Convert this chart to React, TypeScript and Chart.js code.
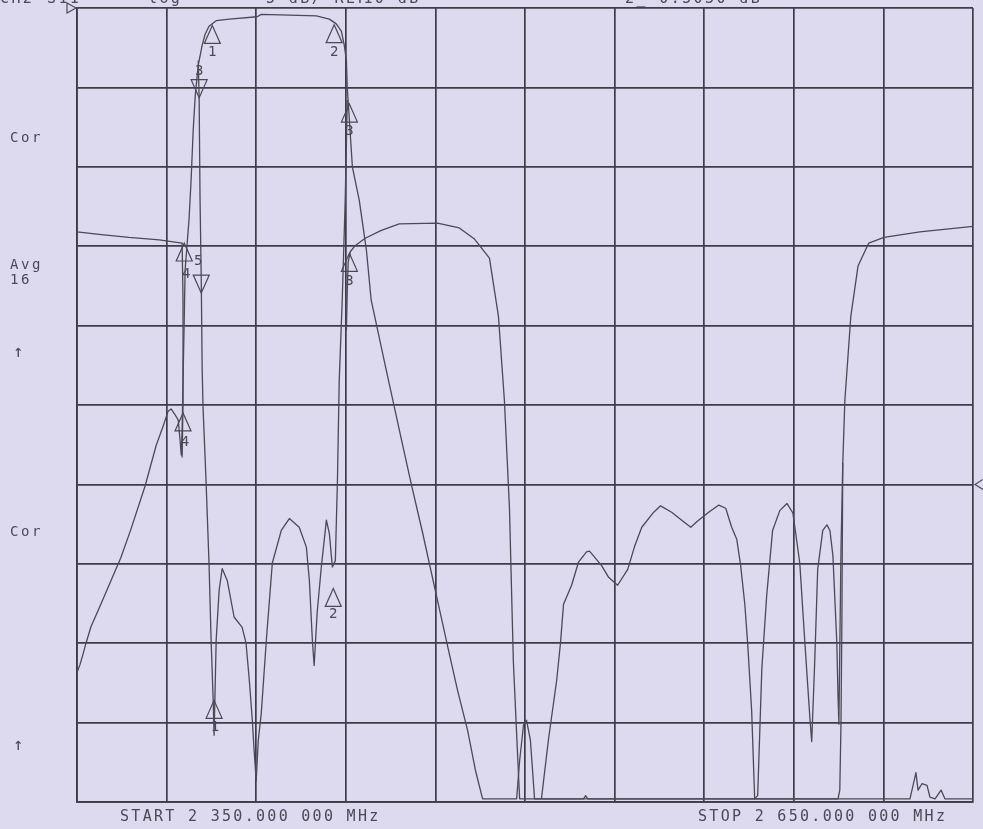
import { useEffect, useRef } from "react";
import { Chart, registerables } from "chart.js";

Chart.register(...registerables);

// ---------- axes ----------
const freqStartMHz = 2350;
const freqStopMHz = 2650;
const freqTicksMHz = [2350, 2380, 2410, 2440, 2470, 2500, 2530, 2560, 2590, 2620, 2650];
const levelTopDb = 0;
const levelBottomDb = -100;
const levelTicksDb = [0, -10, -20, -30, -40, -50, -60, -70, -80, -90, -100];

// ---------- trace 1 : passband transmission ----------
const passFreq = [
  2350.0, 2351.0, 2352.0, 2353.0, 2354.7, 2357.4, 2361.4, 2364.7, 2368.1, 2372.8,
  2376.5, 2378.8, 2380.5, 2381.5, 2382.8, 2383.9, 2384.5, 2384.9, 2385.2, 2385.5,
  2385.9, 2386.2, 2386.9, 2387.5, 2388.2, 2388.9, 2389.6, 2390.6, 2391.9, 2392.9,
  2394.2, 2396.6, 2401.0, 2410.3, 2411.7, 2421.1, 2430.1, 2434.5, 2436.8, 2438.5,
  2439.5, 2440.2, 2440.5, 2441.2, 2442.2, 2444.5, 2446.9, 2448.5, 2453.2, 2458.3,
  2462.0, 2465.6, 2470.7, 2474.4, 2477.4, 2480.8, 2483.4, 2485.8, 2497.2, 2498.2,
  2499.5, 2500.5, 2501.8, 2503.2, 2519.6, 2520.3, 2521.0, 2628.9, 2630.9, 2631.6,
  2632.9, 2634.6, 2635.6, 2637.3, 2639.3, 2640.6, 2650.0,
];
const passDb = [
  -83.7, -82.7, -81.4, -80.0, -77.9, -75.6, -72.1, -69.2, -65.6, -60.2,
  -55.1, -52.7, -50.8, -50.5, -51.2, -51.9, -54.4, -56.3, -53.2, -46.9,
  -39.3, -33.0, -29.6, -26.7, -21.7, -15.4, -11.0, -7.2, -4.7, -3.3,
  -2.3, -1.6, -1.4, -1.1, -0.8, -0.9, -1.0, -1.4, -2.0, -2.9,
  -4.7, -6.6, -10.1, -14.1, -20.0, -24.2, -30.5, -36.8, -45.0, -53.8,
  -60.1, -65.9, -74.6, -80.9, -85.9, -91.0, -96.0, -99.6, -99.6, -94.8,
  -90.3, -89.7, -92.2, -99.6, -99.6, -99.2, -99.6, -99.6, -96.3, -98.5,
  -97.7, -97.9, -99.4, -99.6, -98.5, -99.6, -99.6,
];

// ---------- trace 2 : complementary (notch) path ----------
const notchLowFreq = [2350.0, 2357.4, 2367.4, 2377.5, 2385.2, 2385.5, 2385.5, 2385.2];
const notchLowDb = [-28.2, -28.5, -28.9, -29.2, -29.6, -36.8, -49.4, -56.6];
const notchHighFreq = [
  2440.2, 2440.5, 2440.8, 2441.5, 2443.2, 2446.5, 2451.9, 2457.9, 2470.7, 2478.0,
  2483.1, 2488.1, 2491.1, 2493.1, 2494.8, 2496.1, 2497.5, 2498.2, 2604.8, 2605.4,
  2605.8, 2606.1, 2606.4, 2607.1, 2609.1, 2611.5, 2615.1, 2620.2, 2632.2, 2650.0,
];
const notchHighDb = [
  -40.6, -35.5, -32.0, -30.7, -29.9, -29.0, -28.0, -27.2, -27.1, -27.7,
  -29.1, -31.5, -38.8, -49.4, -63.0, -82.3, -93.9, -99.6, -99.6, -98.5,
  -90.1, -77.1, -57.3, -49.4, -38.8, -32.5, -29.6, -28.9, -28.2, -27.5,
];

// ---------- trace 3 : return loss ----------
const returnLowFreq = [
  2390.6, 2390.9, 2391.2, 2391.6, 2391.9, 2392.2, 2393.2, 2394.2, 2394.9, 2395.6,
  2395.9, 2396.6, 2397.6, 2398.6, 2400.3, 2402.6, 2405.3, 2406.6, 2407.7, 2408.7,
  2409.3, 2410.0, 2410.7, 2411.7, 2413.4, 2415.4, 2418.4, 2421.1, 2424.4, 2426.8,
  2427.8, 2428.8, 2429.4, 2430.4, 2431.8, 2433.5, 2434.5, 2435.5, 2436.5, 2437.2,
  2437.8, 2438.8, 2439.8, 2440.5,
];
const returnLowDb = [
  -6.6, -11.6, -24.2, -34.0, -45.2, -50.3, -59.5, -69.9, -79.6, -87.2,
  -91.6, -79.6, -73.3, -70.6, -72.1, -76.7, -78.0, -80.0, -84.7, -89.7,
  -93.5, -97.3, -92.2, -88.8, -79.6, -69.9, -65.8, -64.3, -65.4, -67.9,
  -72.1, -79.6, -82.8, -76.2, -70.4, -64.5, -66.2, -70.4, -69.6, -59.5,
  -46.9, -36.8, -24.2, -11.6,
];
const returnHighFreq = [
  2505.5, 2507.9, 2510.6, 2511.9, 2512.9, 2515.6, 2517.9, 2520.6, 2521.6, 2525.6,
  2528.0, 2531.0, 2534.4, 2536.7, 2539.1, 2543.1, 2545.4, 2549.1, 2552.8, 2555.5,
  2557.8, 2561.5, 2564.9, 2567.2, 2569.2, 2570.9, 2572.2, 2573.6, 2574.6, 2575.9,
  2576.6, 2576.9, 2577.9, 2579.3, 2580.9, 2582.9, 2585.3, 2587.7, 2589.7, 2592.0,
  2593.7, 2595.4, 2596.0, 2597.0, 2598.0, 2599.7, 2601.1, 2602.1, 2603.1, 2604.4,
  2604.8, 2605.1, 2605.8, 2606.4,
];
const returnHighDb = [
  -99.6, -92.0, -84.7, -79.9, -75.1, -72.7, -69.8, -68.5, -68.4, -70.2,
  -71.7, -72.7, -70.7, -67.8, -65.4, -63.5, -62.7, -63.5, -64.6, -65.4,
  -64.6, -63.5, -62.6, -63.0, -65.4, -66.9, -70.2, -75.1, -80.3, -88.6,
  -96.3, -99.6, -99.2, -83.2, -74.1, -65.8, -63.3, -62.4, -63.6, -69.9,
  -79.9, -89.5, -92.4, -82.4, -70.7, -65.8, -65.1, -65.8, -69.0, -79.9,
  -86.6, -90.2, -68.2, -57.3,
];

// ---------- markers ----------
const markerFreq = [2395.3, 2436.1, 2390.9, 2441.2, 2385.9, 2391.6, 2385.5, 2395.9, 2435.8, 2441.2];
const markerDb = [-2.2, -2.1, -11.3, -12.1, -29.6, -35.9, -51.0, -87.2, -73.1, -30.9];
const markerLabel = ["1", "2", "3", "3", "5", "4", "4", "1", "2", "3"];
const markerPointsUp = [true, true, false, true, true, false, true, true, true, true];

// ---------- annotation texts ----------
const headerTexts = ["CH2", "S11", "log", "5 dB/ REF", "-10 dB", "2_-0.5030 dB"];
const sideTexts = ["Cor", "Avg", "16", "\u2191", "Cor", "\u2191"];
const sideTextDb = [-16.9, -32.9, -34.7, -43.9, -66.5, -93.5];
const startText = "START 2 350.000 000 MHz";
const stopText = "STOP 2 650.000 000 MHz";
const refLevelLeftDb = 0;
const refLevelRightDb = -60;

// ---------- styles (not data) ----------
const BG = "#dddaef";
const GRID = "#3d3c48";
const INK = "#4a4956";
const MONO = "'DejaVu Sans Mono', 'Liberation Mono', monospace";
const headerX = [0, 47, 148, 266, 352, 625];
const sideTextX = [10, 10, 10, 13, 10, 13];
const labelOffset: [number, number][] = [
  [0, 31], [0, 31], [0, -23], [0, 31], [14, 22], [-15, -15], [2, 33], [1, 31], [0, 30], [0, 32],
];

function pts(f: number[], d: number[]) {
  return f.map((x, i) => ({ x, y: d[i] }));
}

const overlay = {
  id: "overlay",
  beforeDraw(chart: any) {
    const { ctx, width, height } = chart;
    ctx.save();
    ctx.fillStyle = BG;
    ctx.fillRect(0, 0, width, height);
    ctx.restore();
  },
  afterDraw(chart: any) {
    const { ctx, chartArea } = chart;
    const xs = chart.scales.x;
    const ys = chart.scales.y;
    ctx.save();
    ctx.strokeStyle = INK;
    ctx.fillStyle = INK;
    ctx.lineWidth = 1.2;
    ctx.lineJoin = "miter";

    // markers
    ctx.font = `14px ${MONO}`;
    ctx.textAlign = "center";
    ctx.textBaseline = "alphabetic";
    markerFreq.forEach((f, i) => {
      const px = xs.getPixelForValue(f);
      const py = ys.getPixelForValue(markerDb[i]);
      const dir = markerPointsUp[i] ? 1 : -1;
      ctx.beginPath();
      ctx.moveTo(px, py);
      ctx.lineTo(px - 8, py + dir * 18);
      ctx.lineTo(px + 8, py + dir * 18);
      ctx.closePath();
      ctx.stroke();
      const off = labelOffset[i];
      ctx.fillText(markerLabel[i], px + off[0], py + off[1]);
    });

    // reference position indicators
    const yl = ys.getPixelForValue(refLevelLeftDb);
    ctx.beginPath();
    ctx.moveTo(chartArea.left - 10, yl - 5);
    ctx.lineTo(chartArea.left - 1, yl);
    ctx.lineTo(chartArea.left - 10, yl + 5);
    ctx.closePath();
    ctx.stroke();
    const yr = ys.getPixelForValue(refLevelRightDb);
    ctx.beginPath();
    ctx.moveTo(chartArea.right + 10, yr - 5);
    ctx.lineTo(chartArea.right + 2, yr);
    ctx.lineTo(chartArea.right + 10, yr + 5);
    ctx.stroke();

    // texts
    ctx.textAlign = "left";
    ctx.font = `15px ${MONO}`;
    (ctx as any).letterSpacing = "2.4px";
    headerTexts.forEach((t, i) => ctx.fillText(t, headerX[i], 3));
    (ctx as any).letterSpacing = "2.6px";
    sideTexts.forEach((t, i) => {
      ctx.font = t === "\u2191" ? `17px ${MONO}` : `14px ${MONO}`;
      ctx.fillText(t, sideTextX[i], ys.getPixelForValue(sideTextDb[i]));
    });
    ctx.font = `15px ${MONO}`;
    (ctx as any).letterSpacing = "2.3px";
    ctx.fillText(startText, 120, chartArea.bottom + 19);
    ctx.fillText(stopText, 698, chartArea.bottom + 19);
    ctx.restore();
  },
};

export default function App() {
  const ref = useRef<HTMLCanvasElement | null>(null);
  useEffect(() => {
    if (!ref.current) return;
    const line = (data: { x: number; y: number }[]) => ({
      data,
      borderColor: INK,
      borderWidth: 1.3,
      pointRadius: 0,
      tension: 0,
      borderJoinStyle: "round" as const,
      fill: false,
    });
    const chart = new Chart(ref.current, {
      type: "line",
      data: {
        datasets: [
          line(pts(passFreq, passDb)),
          line(pts(notchLowFreq, notchLowDb)),
          line(pts(notchHighFreq, notchHighDb)),
          line(pts(returnLowFreq, returnLowDb)),
          line(pts(returnHighFreq, returnHighDb)),
        ] as any,
      },
      options: {
        animation: false,
        responsive: false,
        layout: { padding: { left: 77, top: 8, right: 10, bottom: 27 } },
        plugins: { legend: { display: false }, tooltip: { enabled: false } },
        scales: {
          x: {
            type: "linear",
            min: freqStartMHz,
            max: freqStopMHz,
            afterBuildTicks: (axis: any) => {
              axis.ticks = freqTicksMHz.map((value) => ({ value }));
            },
            ticks: { display: false },
            grid: { color: GRID, lineWidth: 1.7, drawTicks: false },
            border: { color: GRID, width: 1.7 },
          },
          y: {
            type: "linear",
            min: levelBottomDb,
            max: levelTopDb,
            afterBuildTicks: (axis: any) => {
              axis.ticks = levelTicksDb.map((value) => ({ value }));
            },
            ticks: { display: false },
            grid: { color: GRID, lineWidth: 1.7, drawTicks: false },
            border: { color: GRID, width: 1.7 },
          },
        },
      },
      plugins: [overlay],
    });
    return () => chart.destroy();
  }, []);
  return (
    <div style={{ position: "fixed", left: 0, top: 0, width: 983, height: 829, background: BG }}>
      <canvas ref={ref} width={983} height={829} style={{ display: "block" }} />
    </div>
  );
}
